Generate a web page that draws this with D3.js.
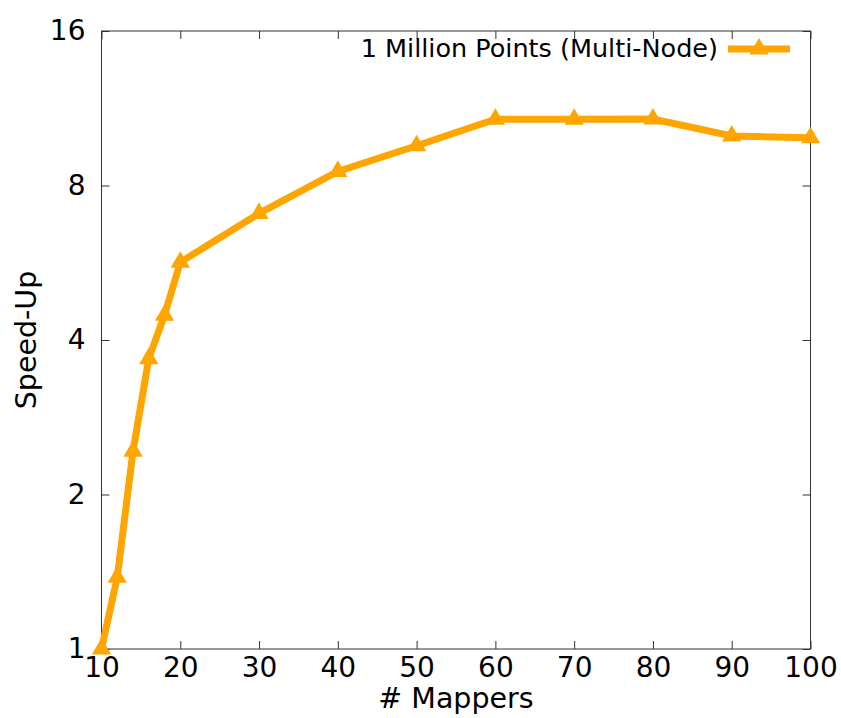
<!DOCTYPE html>
<meta charset="utf-8">
<body style="margin:0;background:#fff">
<div id="chart"></div>
</body>
<style>
	text { font-family: "DejaVu Sans", sans-serif; fill: #000; }
	.tick line { stroke: #333; }
</style>
<script src="https://cdnjs.cloudflare.com/ajax/libs/d3/7.8.5/d3.min.js"></script>
<script>

// Data
var mappers = [10, 12, 14, 16, 18, 20, 30, 40, 50, 60, 70, 80, 90, 100];
var speedUp = [1.0, 1.38, 2.43, 3.68, 4.47, 5.67, 7.06, 8.52, 9.56, 10.77, 10.77, 10.78, 9.99, 9.91];
var xTicks = [10, 20, 30, 40, 50, 60, 70, 80, 90, 100];
var yTicks = [1, 2, 4, 8, 16];
var seriesName = "1 Million Points (Multi-Node)";

var width = 841,
	height = 718;
var margin = {top: 31, right: 30.5, bottom: 69, left: 101.5};
var orange = "#ffa500";

var svg = d3.select("#chart").append("svg")
	.attr("width", width)
	.attr("height", height);

var x = d3.scaleLinear()
	.domain([10, 100])
	.range([margin.left, width - margin.right]);

var y = d3.scaleLog().base(2)
	.domain([1, 16])
	.range([height - margin.bottom, margin.top]);

// Axes with inward ticks, mirrored on top and right
svg.append("g")
	.attr("transform", "translate(0," + (height - margin.bottom) + ")")
	.call(d3.axisBottom(x).tickValues(xTicks).tickSize(-8).tickPadding(8))
	.call(g => g.select(".domain").remove())
	.call(g => g.selectAll("text").attr("font-size", 28));

svg.append("g")
	.attr("transform", "translate(" + margin.left + ",0)")
	.call(d3.axisLeft(y).tickValues(yTicks).tickFormat(d3.format("d")).tickSize(-8).tickPadding(16))
	.call(g => g.select(".domain").remove())
	.call(g => g.selectAll("text").attr("font-size", 28));

svg.append("g")
	.attr("transform", "translate(0," + margin.top + ")")
	.call(d3.axisTop(x).tickValues(xTicks).tickSize(-8).tickFormat(""))
	.call(g => g.select(".domain").remove());

svg.append("g")
	.attr("transform", "translate(" + (width - margin.right) + ",0)")
	.call(d3.axisRight(y).tickValues(yTicks).tickSize(-8).tickFormat(""))
	.call(g => g.select(".domain").remove());

// Border
svg.append("rect")
	.attr("x", margin.left)
	.attr("y", margin.top)
	.attr("width", width - margin.left - margin.right)
	.attr("height", height - margin.top - margin.bottom)
	.attr("fill", "none")
	.attr("stroke", "#333")
	.attr("stroke-width", 1);

// Axis titles
svg.append("text")
	.attr("x", (margin.left + width - margin.right) / 2)
	.attr("y", 708)
	.attr("text-anchor", "middle")
	.attr("font-size", 28.5)
	.text("# Mappers");

svg.append("text")
	.attr("transform", "translate(36," + ((margin.top + height - margin.bottom) / 2) + ") rotate(-90)")
	.attr("text-anchor", "middle")
	.attr("font-size", 28.5)
	.text("Speed-Up");

// Series
var points = mappers.map((m, i) => ({x: m, y: speedUp[i]}));

var line = d3.line()
	.x(d => x(d.x))
	.y(d => y(d.y));

svg.append("path")
	.datum(points)
	.attr("fill", "none")
	.attr("stroke", orange)
	.attr("stroke-width", 7)
	.attr("stroke-linejoin", "miter")
	.attr("d", line);

var tri = d3.symbol().type(d3.symbolTriangle).size(160);

svg.selectAll(".pt")
	.data(points)
	.enter().append("path")
	.attr("class", "pt")
	.attr("fill", orange)
	.attr("transform", d => "translate(" + x(d.x) + "," + y(d.y) + ")")
	.attr("d", tri);

// Legend
svg.append("text")
	.attr("x", 718)
	.attr("y", 57)
	.attr("text-anchor", "end")
	.attr("font-size", 25.5)
	.text(seriesName);

svg.append("line")
	.attr("x1", 728)
	.attr("x2", 790)
	.attr("y1", 49)
	.attr("y2", 49)
	.attr("stroke", orange)
	.attr("stroke-width", 7);

svg.append("path")
	.attr("fill", orange)
	.attr("transform", "translate(759,49)")
	.attr("d", tri);
</script>
